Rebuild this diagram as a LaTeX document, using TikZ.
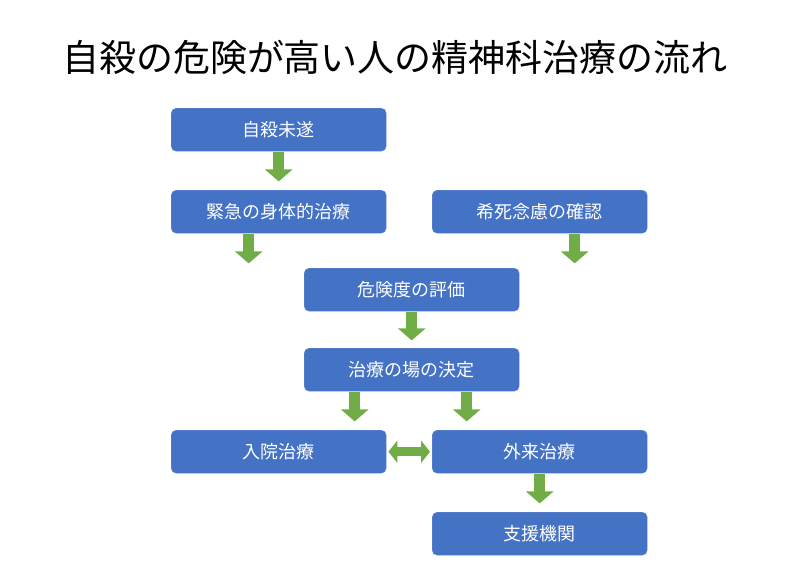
\documentclass[tikz,border=0pt]{standalone}
\usepackage{fontspec}
\setmainfont{Noto Sans CJK JP}
\usetikzlibrary{arrows.meta}
\definecolor{bx}{HTML}{4472C4}
\definecolor{gr}{HTML}{70AD47}
\begin{document}
\begin{tikzpicture}[x=1pt,y=-1pt,
  box/.style={draw=bx!80!white,fill=bx,rounded corners=5pt,minimum width=215pt,minimum height=43pt,text=white,font=\fontsize{18}{20}\selectfont,inner sep=0pt,anchor=north west},
  ar/.style={draw=gr,line width=11pt,-{Triangle[width=27pt,length=12pt]}},
  dar/.style={draw=gr,line width=9pt,{Triangle[width=22pt,length=9pt]}-{Triangle[width=22pt,length=9pt]}}]
\useasboundingbox[fill=white] (0,0) rectangle (809,562);
\node (t) at (395,57) {\fontsize{37}{40}\selectfont 自殺の危険が高い人の精神科治療の流れ};
\node[box] (a) at (171,108) {自殺未遂};
\node[box] (b) at (171,190) {緊急の身体的治療};
\node[box] (c) at (432,190) {希死念慮の確認};
\node[box] (d) at (304,268) {危険度の評価};
\node[box] (e) at (304,348) {治療の場の決定};
\node[box] (f) at (171,430) {入院治療};
\node[box] (g) at (432,430) {外来治療};
\node[box] (h) at (432,512) {支援機関};
\draw[ar] (a.south) ++(0,1) -- ++(0,29);
\draw[ar] (b.south) ++(-30,1) -- ++(0,29);
\draw[ar] (c.south) ++(35,1) -- ++(0,29);
\draw[ar] (d.south) ++(0,1) -- ++(0,28);
\draw[ar] (e.south) ++(-57,1) -- ++(0,29);
\draw[ar] (e.south) ++(55,1) -- ++(0,29);
\draw[ar] (g.south) ++(0,1) -- ++(0,29);
\draw[dar] (f.east) ++(2,0) -- ([xshift=-2pt]g.west);
\end{tikzpicture}
\end{document}
